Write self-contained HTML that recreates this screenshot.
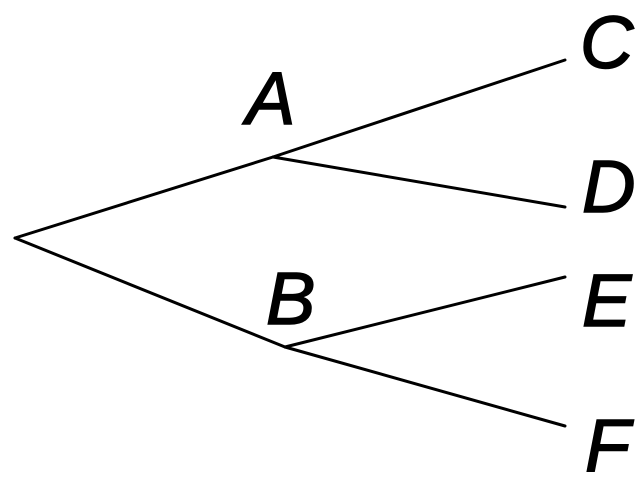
<!DOCTYPE html>
<html><head><style>html,body{margin:0;padding:0;background:#fff;width:640px;height:480px;overflow:hidden}</style></head>
<body>
<svg width="640" height="480" viewBox="0 0 640 480" xmlns="http://www.w3.org/2000/svg">
<g stroke="#000" stroke-width="3" fill="none" stroke-linecap="round">
<line x1="15" y1="238" x2="273" y2="157"/>
<line x1="273" y1="157" x2="565" y2="60"/>
<line x1="273" y1="157" x2="565" y2="207"/>
<line x1="15" y1="238" x2="285" y2="347"/>
<line x1="285" y1="347" x2="565" y2="277"/>
<line x1="285" y1="347" x2="565" y2="426"/>
</g>
<g font-family="Liberation Sans, sans-serif" font-size="74" font-style="italic" fill="#000" stroke="#000" stroke-width="1.5">
<text x="246" y="124">A</text>
<text x="266" y="324">B</text>
<text x="580" y="68">C</text>
<text x="582" y="212">D</text>
<text x="582" y="326">E</text>
<text x="585" y="471">F</text>
</g>
</svg>
</body></html>
